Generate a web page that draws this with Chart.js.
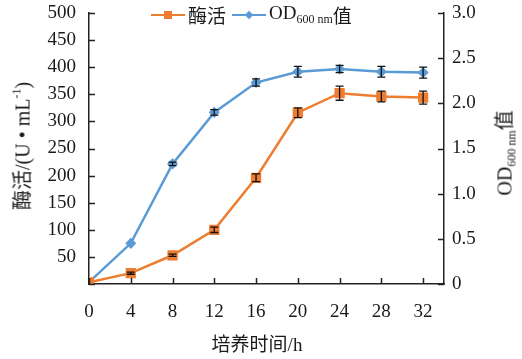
<!DOCTYPE html>
<html>
<head>
<meta charset="utf-8">
<script src="https://cdn.jsdelivr.net/npm/chart.js@4"></script>
<style>
  html, body { margin: 0; padding: 0; background: #fff; }
  #wrap { position: relative; width: 522px; height: 359px; overflow: hidden; }
  canvas { position: absolute; left: 0; top: 0; }
  .txt { position: absolute; font-family: "Liberation Serif", "Noto Sans CJK SC", serif; color: #1a1a1a; white-space: nowrap; }
  .cjk { font-family: "Noto Sans CJK SC", sans-serif; }
  sub, sup { font-size: 60%; }
  .leg { top: 1px; left: 151px; font-size: 19px; display: flex; align-items: center; }
  .sw { display: inline-block; position: relative; width: 34px; height: 20px; margin-right: 3px; }
  .sw i { position: absolute; left: 0; right: 0; top: 9px; height: 2.5px; }
  .sw b { position: absolute; }
</style>
</head>
<body>
<div id="wrap">
  <canvas id="c" width="522" height="359"></canvas>
  <div class="txt leg">
    <span class="sw"><i style="background:#ED7D31"></i><b style="left:13px;top:6px;width:8px;height:8px;background:#ED7D31"></b></span><span class="cjk" style="margin-right:6px">酶活</span>
    <span class="sw"><i style="background:#5B9BD5"></i><b style="left:14px;top:7px;width:6px;height:6px;background:#5B9BD5;transform:rotate(45deg)"></b></span><span>OD<sub style="font-size:12px;vertical-align:-4px">600 nm</sub></span><span class="cjk">值</span>
  </div>
  <div class="txt" style="left:21px;top:146px;transform:translate(-50%,-50%) rotate(-90deg);font-size:20px;"><span class="cjk">酶活</span>/(U • mL<sup style="font-size:12px;vertical-align:9px">-1</sup>)</div>
  <div class="txt" style="left:504px;top:153px;transform:translate(-50%,-50%) rotate(-90deg);font-size:20px;">OD<sub style="font-size:12px;vertical-align:-4px">600 nm</sub><span class="cjk">值</span></div>
  <div class="txt" style="left:257px;top:342px;transform:translate(-50%,-50%);font-size:19px;"><span class="cjk">培养时间</span>/h</div>
</div>
<script>
// ---- data ----
const times = [0, 4, 8, 12, 16, 20, 24, 28, 32];
const enzymeActivity = [3, 20, 53, 100, 196, 316, 352, 346, 344];
const enzymeErr = [1, 2, 2, 5, 7, 9, 13, 10, 12];
const od600 = [0.02, 0.45, 1.33, 1.9, 2.23, 2.35, 2.38, 2.35, 2.34];
const odErr = [0.01, 0.01, 0.02, 0.03, 0.04, 0.06, 0.04, 0.06, 0.06];
const leftTicks = [0, 50, 100, 150, 200, 250, 300, 350, 400, 450, 500];
const rightTicks = [0, 0.5, 1.0, 1.5, 2.0, 2.5, 3.0];
const xTicks = [0, 4, 8, 12, 16, 20, 24, 28, 32];

const ORANGE = '#ED7D31', BLUE = '#5B9BD5', AXIS = '#222';
const FONT = { family: 'Liberation Serif', size: 19 };

const errorBars = {
  id: 'errorBars',
  afterDatasetsDraw(chart) {
    const ctx = chart.ctx;
    const xs = chart.scales.x;
    const sets = [[enzymeActivity, enzymeErr, chart.scales.y], [od600, odErr, chart.scales.y1]];
    ctx.save();
    ctx.strokeStyle = '#111';
    ctx.lineWidth = 1.3;
    sets.forEach(([vals, errs, ys]) => {
      vals.forEach((v, i) => {
        const px = xs.getPixelForValue(times[i]);
        const top = ys.getPixelForValue(v + errs[i]);
        const bot = ys.getPixelForValue(v - errs[i]);
        if (bot - top < 2) return;
        ctx.beginPath();
        ctx.moveTo(px, top); ctx.lineTo(px, bot);
        ctx.moveTo(px - 4, top); ctx.lineTo(px + 4, top);
        ctx.moveTo(px - 4, bot); ctx.lineTo(px + 4, bot);
        ctx.stroke();
      });
    });
    ctx.restore();
  }
};

const innerTicks = {
  id: 'innerTicks',
  afterDraw(chart) {
    const ctx = chart.ctx;
    const a = chart.chartArea;
    ctx.save();
    ctx.strokeStyle = AXIS;
    ctx.lineWidth = 1.5;
    ctx.beginPath();
    xTicks.forEach(t => {
      const px = Math.round(chart.scales.x.getPixelForValue(t)) + 0.5;
      ctx.moveTo(px, a.bottom); ctx.lineTo(px, a.bottom - 6);
    });
    leftTicks.forEach(t => {
      const py = Math.round(chart.scales.y.getPixelForValue(t)) + 0.5;
      ctx.moveTo(a.left, py); ctx.lineTo(a.left + 6, py);
    });
    rightTicks.forEach(t => {
      const py = Math.round(chart.scales.y1.getPixelForValue(t)) + 0.5;
      ctx.moveTo(a.right, py); ctx.lineTo(a.right - 6, py);
    });
    ctx.stroke();
    ctx.restore();
  }
};

function fixV(w) {
  return s => { s.width = w; s.paddingTop = 0; s.paddingBottom = 0; };
}

new Chart(document.getElementById('c'), {
  type: 'line',
  data: {
    datasets: [
      {
        label: '酶活',
        data: times.map((t, i) => ({ x: t, y: enzymeActivity[i] })),
        yAxisID: 'y',
        borderColor: ORANGE, backgroundColor: ORANGE,
        borderWidth: 2.5, pointStyle: 'rect', pointRadius: 5.5,
        tension: 0
      },
      {
        label: 'OD600 nm值',
        data: times.map((t, i) => ({ x: t, y: od600[i] })),
        yAxisID: 'y1',
        borderColor: BLUE, backgroundColor: BLUE,
        borderWidth: 2.5, pointStyle: 'rectRot', pointRadius: 3.8,
        tension: 0
      }
    ]
  },
  options: {
    responsive: false,
    animation: false,
    layout: { padding: { top: 13, left: 0, right: 0, bottom: 0 } },
    plugins: { legend: { display: false }, tooltip: { enabled: false } },
    scales: {
      x: {
        type: 'linear', min: 0, max: 34,
        afterFit(s) { s.height = 75; s.paddingLeft = 0; s.paddingRight = 0; },
        afterBuildTicks(s) { s.ticks = xTicks.map(v => ({ value: v })); },
        grid: { drawOnChartArea: false, drawTicks: false },
        border: { color: AXIS, width: 1.5 },
        ticks: { font: FONT, color: '#1a1a1a', padding: 17, maxRotation: 0 }
      },
      y: {
        position: 'left', min: 0, max: 500,
        afterFit: fixV(89),
        afterBuildTicks(s) { s.ticks = leftTicks.map(v => ({ value: v })); },
        grid: { drawOnChartArea: false, drawTicks: false },
        border: { color: AXIS, width: 1.5 },
        ticks: { font: FONT, color: '#1a1a1a', padding: 13, callback: v => v === 0 ? '' : String(v) }
      },
      y1: {
        position: 'right', min: 0, max: 3,
        afterFit: fixV(78),
        afterBuildTicks(s) { s.ticks = rightTicks.map(v => ({ value: v })); },
        grid: { drawOnChartArea: false, drawTicks: false },
        border: { color: AXIS, width: 1.5 },
        ticks: { font: FONT, color: '#1a1a1a', padding: 8, callback: v => v === 0 ? '0' : v.toFixed(1) }
      }
    }
  },
  plugins: [errorBars, innerTicks]
});
</script>
</body>
</html>
